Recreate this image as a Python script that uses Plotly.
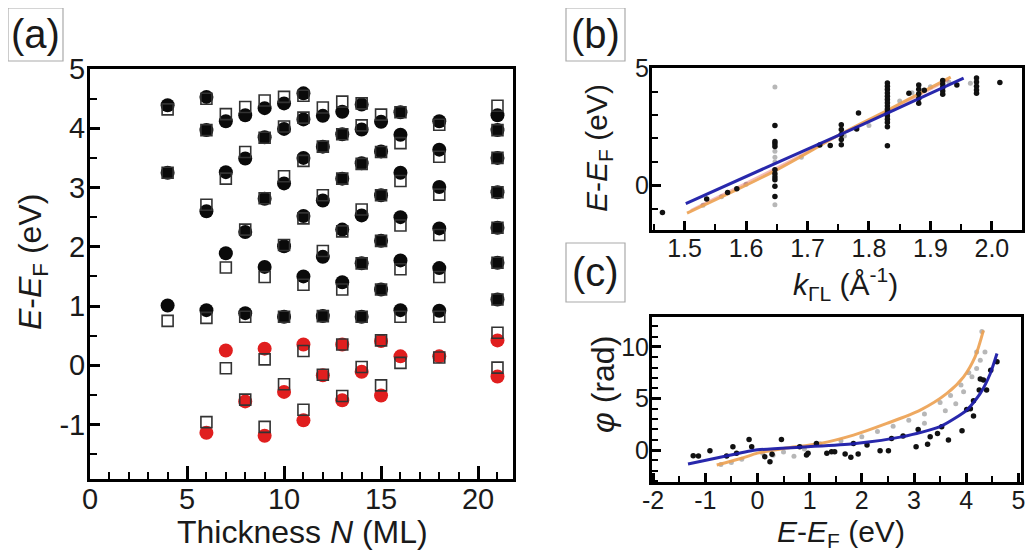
import plotly.graph_objects as go

# the page body keeps an 8px margin at the top-left; the figure is laid out in page pixels
OFF = 8
W, H = 1034 - OFF, 555 - OFF

# ---------------- Panel (a) data ----------------
blk_N = [4, 4, 4,
         6, 6, 6, 6,
         7, 7, 7,
         8, 8, 8, 8,
         9, 9, 9, 9,
         10, 10, 10, 10, 10,
         11, 11, 11, 11, 11,
         12, 12, 12, 12, 12,
         13, 13, 13, 13, 13,
         14, 14, 14, 14, 14, 14,
         15, 15, 15, 15, 15,
         16, 16, 16, 16, 16, 16,
         18, 18, 18, 18, 18, 18,
         21, 21, 21, 21, 21, 21, 21]
blk_E = [4.39, 3.25, 1.01,
         4.53, 3.97, 2.60, 0.93,
         4.12, 3.26, 1.89,
         4.22, 3.49, 2.25, 0.88,
         4.34, 3.85, 2.81, 1.66,
         4.42, 3.99, 3.07, 2.01, 0.82,
         4.59, 4.15, 3.50, 2.52, 1.50,
         4.21, 3.69, 2.78, 1.83, 0.83,
         4.28, 3.90, 3.15, 2.29, 1.40,
         4.40, 3.98, 3.41, 2.53, 1.72, 0.82,
         4.11, 3.61, 2.87, 2.10, 1.28,
         4.27, 3.89, 3.25, 2.50, 1.77, 0.93,
         4.12, 3.64, 3.01, 2.31, 1.64, 0.92,
         4.22, 3.97, 3.50, 2.92, 2.32, 1.73, 1.11]
red_N = [6, 7, 8, 9, 9, 10, 11, 11, 12, 13, 13, 14, 15, 15, 16, 18, 21, 21]
red_E = [-1.14, 0.25, -0.61, 0.28, -1.19, -0.45, 0.35, -0.93, -0.17,
         0.35, -0.59, -0.11, 0.41, -0.51, 0.15, 0.15, 0.42, -0.19]
sq_N = [4, 4, 4,
        6, 6, 6, 6, 6,
        7, 7, 7, 7,
        8, 8, 8, 8, 8,
        9, 9, 9, 9, 9, 9,
        10, 10, 10, 10, 10, 10,
        11, 11, 11, 11, 11, 11, 11,
        12, 12, 12, 12, 12, 12,
        13, 13, 13, 13, 13, 13, 13,
        14, 14, 14, 14, 14, 14, 14,
        15, 15, 15, 15, 15, 15, 15,
        16, 16, 16, 16, 16, 16, 16,
        18, 18, 18, 18, 18, 18, 18,
        21, 21, 21, 21, 21, 21, 21, 21, 21]
sq_E = [4.32, 3.25, 0.75,
        4.50, 3.97, 2.71, 0.80, -0.96,
        4.24, 3.15, 1.65, -0.05,
        4.36, 3.60, 2.29, 0.82, -0.58,
        4.47, 3.84, 2.82, 1.49, 0.10, -1.04,
        4.53, 4.03, 3.19, 2.03, 0.82, -0.32,
        4.55, 4.18, 3.45, 2.48, 1.36, 0.24, -0.75,
        4.35, 3.69, 2.87, 1.93, 0.83, -0.16,
        4.45, 3.90, 3.15, 2.26, 1.28, 0.35, -0.52,
        4.42, 4.05, 3.40, 2.63, 1.72, 0.82, -0.03,
        4.23, 3.60, 2.87, 2.10, 1.28, 0.42, -0.34,
        4.27, 3.75, 3.11, 2.36, 1.62, 0.82, 0.04,
        4.06, 3.52, 2.88, 2.20, 1.49, 0.82, 0.13,
        4.38, 3.97, 3.50, 2.92, 2.32, 1.73, 1.11, 0.55, -0.04]
a_xticks = [0, 5, 10, 15, 20]
a_yticks = [-1, 0, 1, 2, 3, 4, 5]

# ---------------- Panel (b) data ----------------
b_blk_k = [1.464, 1.536, 1.585, 1.570,
           1.647, 1.647, 1.647, 1.647, 1.647, 1.647, 1.647, 1.647, 1.647, 1.647,
           1.720, 1.737,
           1.755, 1.755, 1.755, 1.755, 1.755,
           1.780, 1.783,
           1.830, 1.830, 1.830, 1.830, 1.830, 1.830, 1.830, 1.830, 1.830, 1.830,
           1.830, 1.830, 1.830, 1.830, 1.830,
           1.865,
           1.881, 1.881, 1.881, 1.881, 1.881,
           1.890,
           1.920, 1.920, 1.920, 1.920, 1.920,
           1.943,
           1.975, 1.975, 1.975, 1.975, 1.975,
           2.013]
b_blk_E = [-1.15, -0.58, -0.14, -0.30,
           2.55, 1.87, 1.77, 1.66, 0.67, 0.50, 0.36, 0.24, -0.04, -0.47,
           1.72, 1.70,
           2.58, 2.38, 2.17, 1.95, 1.73,
           2.40, 3.08,
           4.36, 4.22, 4.08, 3.94, 3.80, 3.66, 3.52, 3.38, 3.24, 3.10,
           2.96, 2.82, 2.68, 2.50, 1.69,
           3.93,
           4.28, 4.10, 3.90, 3.70, 3.50,
           4.05,
           4.47, 4.32, 4.17, 4.02, 3.88,
           4.28,
           4.57, 4.40, 4.22, 4.06, 3.93,
           4.38]
b_gry_k = [1.647, 1.647, 1.647, 1.647, 1.647, 1.530, 1.560, 1.600, 1.690,
           1.760, 1.800, 1.850, 1.870, 1.900, 1.930, 1.965]
b_gry_E = [4.19, -0.82, 1.45, 1.20, 1.00, -0.85, -0.48, 0.05, 1.20,
           2.10, 2.55, 3.60, 3.95, 4.20, 4.40, 4.35]
b_blue_k = [1.502, 1.647, 1.755, 1.830, 1.954]
b_blue_E = [-0.78, 0.93, 2.18, 3.08, 4.57]
b_orng_k = [1.504, 1.647, 1.755, 1.830, 1.933]
b_orng_E = [-1.18, 0.62, 2.20, 3.20, 4.61]
b_red_k = [1.510, 1.647, 1.755, 1.830, 1.930]
b_red_E = [-1.05, 0.72, 2.18, 3.15, 4.50]
b_xticks = [1.5, 1.6, 1.7, 1.8, 1.9, 2.0]
b_xlabels = ["1.5", "1.6", "1.7", "1.8", "1.9", "2.0"]
b_yticks = [0, 5]

# ---------------- Panel (c) data ----------------
c_blk_E = [-1.23, -1.13, -0.91, -0.59, -0.47, -0.40, -0.16, -0.11, 0.14, 0.24,
           0.28, 0.46, 0.81, 0.94, 0.97, 1.13, 1.33, 1.42, 1.48, 1.68, 1.79,
           1.84, 1.93, 2.10, 2.35, 2.51, 2.57, 2.79, 3.04, 3.08, 3.26, 3.31,
           3.45, 3.53, 3.66, 3.92, 4.01, 4.08, 4.14, 4.14, 4.25, 4.27, 4.33,
           4.39, 4.47, 4.59]
c_blk_phi = [-0.55, -0.58, -0.06, -0.58, 0.32, -0.30, 1.03, 0.32, -0.64, -1.13,
             -0.40, 1.03, 0.32, -0.48, -0.30, 0.64, -0.32, -0.16, -0.16, -0.39, -0.71,
             0.64, -0.39, 0.50, -0.06, -0.06, 1.13, 1.36, 0.32, 2.00, 0.55, 1.30,
             1.60, 2.26, 0.97, 1.87, 3.94, 4.00, 3.29, 4.77, 5.81, 6.90, 6.78,
             5.81, 7.74, 8.55]
c_gry_E = [-0.70, -0.50, -0.30, 0.10, 0.30, 0.50, 0.70, 0.90, 1.20, 1.60,
           2.00, 2.30, 2.60, 2.90, 3.20, 3.50, 3.70, 3.90, 4.05, 4.20, 4.30,
           3.20, 3.60, 3.80, 3.95, 4.11, 4.20, 4.27, 4.36]
c_gry_phi = [-1.40, -1.20, -0.90, -0.30, -0.50, -0.20, -0.60, 0.10, 0.60, 0.90,
             1.30, 1.80, 2.30, 2.90, 3.50, 4.60, 5.30, 6.30, 7.50, 9.50, 11.50,
             2.60, 3.80, 4.50, 5.64, 7.10, 7.90, 8.70, 9.50]
c_blue_E = [-1.33, -0.60, 0.00, 0.90, 1.84, 2.79, 3.50, 4.01, 4.27, 4.46, 4.59]
c_blue_phi = [-1.36, -0.58, 0.02, 0.30, 0.62, 1.30, 2.26, 3.87, 5.49, 7.40, 9.36]
c_orng_E = [-0.78, -0.30, 0.00, 0.50, 1.20, 1.84, 2.48, 3.12, 3.63, 3.95, 4.17, 4.33]
c_orng_phi = [-1.45, -0.80, -0.30, 0.15, 0.64, 1.45, 2.58, 3.87, 5.49, 7.10, 9.03, 11.60]
c_xticks = [-2, -1, 0, 1, 2, 3, 4, 5]
c_yticks = [0, 5, 10]


def px(x0, x1):
    return [(x0 - OFF) / W, (x1 - OFF) / W]


def py(y_top, y_bot):
    return [1 - (y_bot - OFF) / H, 1 - (y_top - OFF) / H]


def lbl(v):
    return f"{v:g}"


FONT = "Liberation Sans, Arial, sans-serif"
RED = "#e01e1e"
BLUE = "rgba(28,28,168,0.95)"
ORNG = "rgba(236,160,80,0.9)"
GRAY = "rgba(165,165,165,0.8)"

fig = go.Figure()

# (a)
fig.add_trace(go.Scatter(x=blk_N, y=blk_E, mode="markers", xaxis="x", yaxis="y",
                         marker=dict(symbol="circle", size=14, color="#0a0a0a")))
fig.add_trace(go.Scatter(x=red_N, y=red_E, mode="markers", xaxis="x", yaxis="y",
                         marker=dict(symbol="circle", size=14, color=RED)))
fig.add_trace(go.Scatter(x=sq_N, y=sq_E, mode="markers", xaxis="x", yaxis="y",
                         marker=dict(symbol="square-open", size=11, color="#333333",
                                     line=dict(width=1.6))))
# (b)
fig.add_trace(go.Scatter(x=b_gry_k, y=b_gry_E, mode="markers", xaxis="x2", yaxis="y2",
                         marker=dict(size=5, color=GRAY)))
fig.add_trace(go.Scatter(x=b_red_k, y=b_red_E, mode="lines", xaxis="x2", yaxis="y2",
                         line=dict(color="rgba(220,60,60,0.35)", width=2, shape="spline")))
fig.add_trace(go.Scatter(x=b_orng_k, y=b_orng_E, mode="lines", xaxis="x2", yaxis="y2",
                         line=dict(color=ORNG, width=3, shape="spline")))
fig.add_trace(go.Scatter(x=b_blk_k, y=b_blk_E, mode="markers", xaxis="x2", yaxis="y2",
                         marker=dict(size=5.5, color="#111111")))
fig.add_trace(go.Scatter(x=b_blue_k, y=b_blue_E, mode="lines", xaxis="x2", yaxis="y2",
                         line=dict(color=BLUE, width=3, shape="spline")))
# (c)
fig.add_trace(go.Scatter(x=c_gry_E, y=c_gry_phi, mode="markers", xaxis="x3", yaxis="y3",
                         marker=dict(size=5, color=GRAY)))
fig.add_trace(go.Scatter(x=c_orng_E, y=c_orng_phi, mode="lines", xaxis="x3", yaxis="y3",
                         line=dict(color=ORNG, width=3, shape="spline", smoothing=0.8)))
fig.add_trace(go.Scatter(x=c_blk_E, y=c_blk_phi, mode="markers", xaxis="x3", yaxis="y3",
                         marker=dict(size=5.5, color="#111111")))
fig.add_trace(go.Scatter(x=c_blue_E, y=c_blue_phi, mode="lines", xaxis="x3", yaxis="y3",
                         line=dict(color=BLUE, width=3, shape="spline", smoothing=0.6)))


def ax(domain, rng, tickvals, ticktext, mdtick, m0, anchor, fsize, tlen=10, mlen=6, so=0):
    return dict(domain=domain, range=rng, tickmode="array", tickvals=tickvals,
                ticktext=ticktext, anchor=anchor, automargin=False,
                showline=True, linewidth=3, linecolor="black", mirror=True,
                ticks="inside", ticklen=tlen, tickwidth=2.5, tickcolor="black",
                showgrid=False, zeroline=False, ticklabelstandoff=so,
                tickfont=dict(family=FONT, size=fsize, color="#1a1a1a"),
                minor=dict(dtick=mdtick, tick0=m0, ticks="inside", ticklen=mlen,
                           tickwidth=2, tickcolor="black", showgrid=False))


fig.update_layout(
    template="none",
    width=W, height=H, margin=dict(l=0, r=0, t=0, b=0, pad=0),
    paper_bgcolor="white", plot_bgcolor="white", showlegend=False,
    font=dict(family=FONT, color="#1a1a1a"),
    xaxis=ax(px(90, 513), [0, 21.8], a_xticks, [lbl(v) for v in a_xticks], 1, 0,
             "y", 29, tlen=13, mlen=7, so=-8),
    yaxis=ax(py(69, 479), [-1.92, 5.001], a_yticks, [lbl(v) for v in a_yticks], 0.5, 0,
             "x", 29, tlen=10, mlen=7, so=-4),
    xaxis2=ax(px(652, 1022), [1.447, 2.049], b_xticks, b_xlabels, 0.05, 1.5,
              "y2", 25, tlen=9, mlen=6, so=-6),
    yaxis2=ax(py(68, 230), [-1.9, 5.001], b_yticks, [lbl(v) for v in b_yticks], 1, 0,
              "x2", 25, tlen=9, mlen=6, so=-5),
    xaxis3=ax(px(652, 1021), [-2.02, 5.05], c_xticks, [lbl(v) for v in c_xticks], 0.5, 0,
              "y3", 25, tlen=9, mlen=6, so=-6),
    yaxis3=ax(py(317, 482), [-3.1, 12.9], c_yticks, [lbl(v) for v in c_yticks], 1, 0,
              "x3", 25, tlen=9, mlen=6, so=-5),
)


def ann(text, x, y, size, angle=0):
    fig.add_annotation(text=text, x=(x - OFF) / W, y=1 - (y - OFF) / H,
                       xref="paper", yref="paper",
                       showarrow=False, xanchor="center", yanchor="middle",
                       textangle=angle, font=dict(family=FONT, size=size, color="#1a1a1a"))


EEF = "<i>E</i>-<i>E</i><sub>F</sub> (eV)"
ann("Thickness <i>N</i> (ML)", 302, 532, 32)
ann(EEF, 33, 262, 32, -90)
ann(EEF, 598, 148, 30, -90)
ann("<i>k</i><sub>ΓL</sub> (Å<sup>-1</sup>)", 845, 284, 30)
ann(EEF, 841, 533, 30)
ann("<i>φ</i> (rad)", 603, 385, 32, -90)

# panel labels with boxes
for lab, x0, y0, x1, y1 in [("(a)", 8, 8, 63, 61), ("(b)", 566, 8, 625, 61), ("(c)", 566, 243, 625, 302)]:
    fig.add_shape(type="rect", xref="paper", yref="paper",
                  x0=(x0 - OFF) / W, x1=(x1 - OFF) / W,
                  y0=1 - (y1 - OFF) / H, y1=1 - (y0 - OFF) / H,
                  line=dict(color="#aaaaaa", width=1.2))
    ann(lab, (x0 + x1) / 2, (y0 + y1) / 2 - 1, 40)

fig.write_html("out.html")
